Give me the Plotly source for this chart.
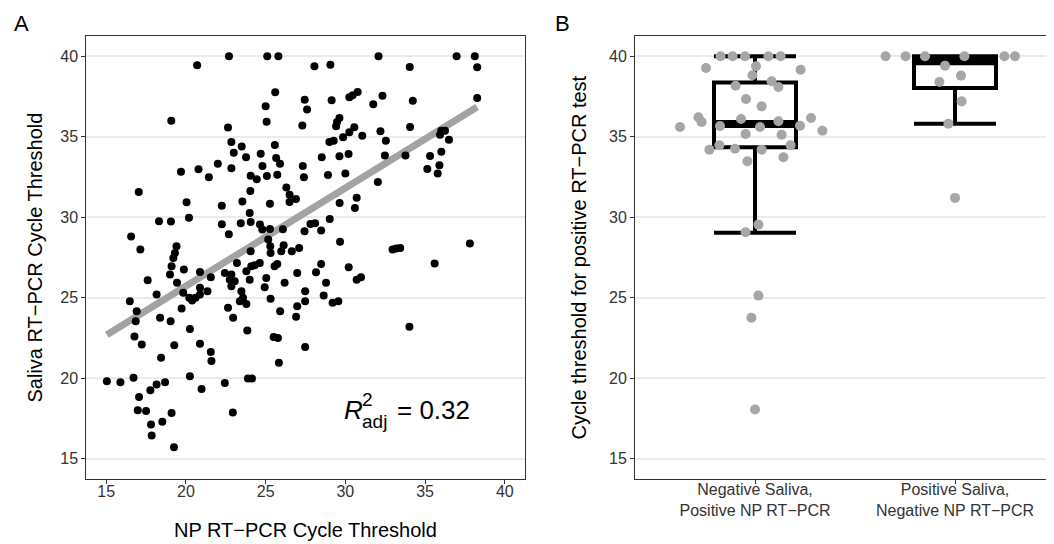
import plotly.graph_objects as go

# Panel A: NP vs saliva cycle threshold
np_ct = [22.7, 25.1, 25.8, 20.7, 25.6, 27.45, 25.0, 27.6, 19.08, 25.06, 27.3, 22.64, 22.85, 23.5,
         23.0, 23.77, 24.69, 25.58, 25.66, 25.9, 24.8, 27.33, 22.0, 22.85, 20.79, 19.69, 21.44,
         24.06, 24.44, 25.08, 25.73, 27.4, 26.3, 26.5, 26.9, 26.5, 24.04, 17.04, 20.04, 23.54,
         25.27, 22.25, 24.0, 20.19, 18.31, 19.06, 22.25, 23.44, 24.06, 24.64, 24.79, 25.27, 26.08,
         27.44, 22.69, 16.56, 17.14, 19.41, 19.31, 25.16, 25.29, 26.13, 25.31, 24.06, 26.64, 27.1,
         25.98,
         32.08, 36.98, 38.12, 38.27, 28.06, 29.06, 34.04, 38.27, 29.14, 30.25, 30.46, 30.77, 32.33,
         31.75, 34.23, 29.63, 29.48, 29.42, 30.56, 30.25, 29.86, 29.0, 29.27, 31.06, 32.2, 32.54,
         34.06, 36.02, 36.25, 35.94, 36.5, 28.52, 29.63, 30.2, 32.48, 33.77, 35.31, 36.02, 35.9,
         35.14, 35.79, 28.91, 30.0, 32.04, 29.64, 30.71, 30.6, 29.02, 27.81, 28.1, 28.48, 29.67,
         32.96, 33.19, 33.44, 37.81,
         19.21, 19.1, 19.0, 19.87, 20.88, 21.56, 22.44, 22.85, 22.75, 23.06, 22.85, 23.2, 23.79,
         24.1, 24.31, 24.63, 24.0, 25.04, 24.94, 25.56, 25.73, 26.19, 26.98, 17.6, 18.16, 16.48,
         16.91, 16.85, 16.77, 17.23, 19.44, 19.83, 19.73, 20.21, 20.39, 20.6, 20.88, 20.88, 21.35,
         18.38, 19.04, 20.25, 19.27, 18.44, 20.88, 21.56, 21.6, 22.64, 22.96, 23.48, 23.38, 23.79,
         23.58, 23.85, 25.31, 25.91, 25.5, 25.77, 25.83, 26.98, 26.91, 27.48, 27.48, 27.48, 15.04,
         15.89, 16.71, 17.06, 16.98, 17.5, 17.77, 18.16, 18.69, 17.81, 17.85, 18.52, 19.1, 19.25,
         20.25, 20.98, 22.44, 23.89, 24.14, 22.94,
         35.6, 28.48, 28.16, 28.79, 30.21, 30.71, 30.98, 28.64, 29.2, 29.56, 34.02]
saliva_ct = [40, 40, 40, 39.44, 37.76, 37.3, 36.9, 36.7, 36.0, 35.94, 35.7, 35.57, 34.68, 34.4,
             34.0, 33.73, 33.95, 34.49, 33.68, 33.33, 33.19, 33.19, 33.33, 33.04, 32.98, 32.83, 32.48,
             32.58, 32.36, 32.56, 32.64, 32.48, 31.84, 31.4, 31.14, 30.95, 31.63, 31.57, 30.93, 30.97,
             30.84, 30.72, 30.27, 29.96, 29.75, 29.73, 29.57, 29.63, 29.71, 29.54, 29.23, 29.27, 29.25,
             29.13, 28.94, 28.8, 27.99, 28.2, 27.78, 28.61, 28.2, 28.26, 27.78, 27.89, 27.89, 28.09,
             27.89,
             40, 40, 40, 39.32, 39.38, 39.48, 39.34, 37.41, 37.27, 37.45, 37.58, 37.78, 37.55,
             37.02, 37.24, 36.17, 35.92, 35.65, 35.59, 35.28, 34.97, 34.68, 34.76, 35.07, 35.34, 34.76,
             35.6, 35.38, 35.38, 35.13, 34.82, 33.73, 33.79, 33.93, 33.83, 33.83, 33.81, 34.07, 33.23,
             33.0, 32.71, 32.63, 32.71, 32.19, 30.88, 31.21, 30.58, 29.89, 29.58, 29.63, 29.17, 28.47,
             27.99, 28.05, 28.09, 28.36,
             27.46, 26.96, 26.44, 26.75, 26.6, 26.27, 26.54, 26.44, 26.12, 26.02, 25.71, 27.16, 26.65,
             26.96, 27.02, 27.16, 26.12, 26.23, 25.65, 26.96, 27.1, 25.92, 26.54, 26.09, 25.19, 24.78,
             24.16, 23.54, 22.58, 22.09, 25.92, 25.3, 24.32, 24.99, 24.82, 24.99, 25.61, 25.19, 25.4,
             23.75, 23.54, 23.06, 22.05, 21.26, 22.13, 21.63, 21.06, 24.37, 23.75, 25.4, 24.78, 24.61,
             24.99, 22.96, 24.93, 24.16, 22.55, 22.5, 20.95, 24.47, 23.81, 25.4, 24.78, 21.94, 19.81,
             19.75, 20.02, 18.82, 18.01, 17.95, 19.25, 19.6, 19.75, 17.12, 16.43, 17.29, 17.84, 15.71,
             20.12, 19.33, 19.69, 19.98, 19.98, 17.86,
             27.12, 27.1, 26.58, 25.92, 26.89, 26.12, 26.27, 25.13, 24.68, 24.78, 23.19]

# linear fit drawn in the figure (end points)
fit_x = [15.04, 38.27]
fit_y = [22.7, 36.85]
r2_adj = "0.32"

# Panel B: discordant results
groups = ["Negative Saliva,<br>Positive NP RT\u2212PCR", "Positive Saliva,<br>Negative NP RT\u2212PCR"]
neg_sal_ct = [40, 40, 40, 40, 40, 39.27, 39.38, 38.82, 39.17, 38.17, 38.45, 38.09, 37.35, 36.89,
              36.21, 35.92, 35.61, 35.67, 36.1, 35.61, 35.96, 35.69, 36.17, 35.38, 35.17, 35.13,
              34.2, 34.47, 34.26, 34.2, 34.47, 33.48, 33.73, 29.54, 29.07, 25.13, 23.75, 18.05]
neg_sal_jit = [-0.172, -0.112, -0.05, 0.067, 0.128, -0.245, 0.005, -0.013, 0.228, -0.097, 0.083,
               0.117, -0.045, 0.033, -0.283, -0.267, -0.375, -0.175, -0.07, 0.025, 0.117, 0.225,
               0.28, 0.337, -0.047, 0.133, -0.228, -0.178, -0.1, 0.033, 0.178, -0.038, 0.142,
               0.017, -0.047, 0.017, -0.018, 0.0]
pos_sal_ct = [40, 40, 40, 40, 40, 40, 39.42, 38.8, 38.4, 37.2, 35.81, 31.2]
pos_sal_jit = [-0.347, -0.247, -0.15, 0.047, 0.247, 0.3, -0.05, 0.03, -0.078, 0.033, -0.033, 0.0]

box_q1 = [34.35, 38.03]
box_med = [35.79, 39.7]
box_q3 = [38.38, 40.0]
box_lo = [29.03, 35.81]
box_hi = [40.0, 40.0]

W, H = 1054, 544
FONT = "Liberation Sans, Arial, Helvetica, sans-serif"


def px(x):
    return x / W


def py(y):
    return 1 - y / H


fig = go.Figure()

# panel A
fig.add_trace(go.Scatter(x=fit_x, y=fit_y, mode="lines",
                         line=dict(color="#a3a3a3", width=7), xaxis="x", yaxis="y"))
fig.add_trace(go.Scatter(x=np_ct, y=saliva_ct, mode="markers",
                         marker=dict(color="black", size=8, line=dict(width=0)),
                         xaxis="x", yaxis="y"))

# panel B
bw = 0.41
for i in range(2):
    fig.add_trace(go.Box(x=[i + 1], q1=[box_q1[i]], median=[box_med[i]], q3=[box_q3[i]],
                         lowerfence=[box_lo[i]], upperfence=[box_hi[i]], width=bw,
                         whiskerwidth=1, boxpoints=False, fillcolor="rgba(0,0,0,0)",
                         line=dict(color="black", width=4), xaxis="x2", yaxis="y2"))
    fig.add_trace(go.Scatter(x=[i + 1 - bw / 2, i + 1 + bw / 2], y=[box_med[i], box_med[i]],
                             mode="lines", line=dict(color="black", width=8),
                             xaxis="x2", yaxis="y2"))

fig.add_trace(go.Scatter(x=[1 + j for j in neg_sal_jit], y=neg_sal_ct, mode="markers",
                         marker=dict(color="#a6a6a6", size=10, line=dict(width=0)),
                         xaxis="x2", yaxis="y2"))
fig.add_trace(go.Scatter(x=[2 + j for j in pos_sal_jit], y=pos_sal_ct, mode="markers",
                         marker=dict(color="#a6a6a6", size=10, line=dict(width=0)),
                         xaxis="x2", yaxis="y2"))

axis_common = dict(showline=True, linecolor="#333333", linewidth=1, ticks="outside",
                   ticklen=4, tickcolor="#333333", tickwidth=1, zeroline=False,
                   tickfont=dict(size=16, color="#333333", family=FONT))
ydom = [py(470.7), py(28.2)]
yvals = [15, 20, 25, 30, 35, 40]

fig.update_layout(
    width=W, height=H, margin=dict(l=0, r=0, t=0, b=0),
    paper_bgcolor="white", plot_bgcolor="white", showlegend=False,
    font=dict(family=FONT, color="black"),
    xaxis=dict(domain=[px(78.3), px(516.7)], range=[13.75, 41.25], tickvals=[15, 20, 25, 30, 35, 40],
               showgrid=False, mirror=True, anchor="y", ticklabelstandoff=-6, **axis_common),
    yaxis=dict(domain=ydom, range=[13.75, 41.25], tickvals=yvals, showgrid=True,
               gridcolor="#ebebeb", gridwidth=1.5, mirror=True, anchor="x", **axis_common),
    xaxis2=dict(domain=[px(627), 1.0], range=[0.4, 0.4 + (W - 627) / 200.0], tickvals=[1, 2],
                ticktext=groups, showgrid=False, mirror=True, anchor="y2", ticklabelstandoff=-8,
                **axis_common),
    yaxis2=dict(domain=ydom, range=[13.75, 41.25], tickvals=yvals, showgrid=True,
                gridcolor="#ebebeb", gridwidth=1.5, mirror=False, anchor="x2", **axis_common),
)

ann = [
    dict(text="A", x=px(13), y=py(15), size=22),
    dict(text="B", x=px(554), y=py(15), size=22),
    dict(text="NP RT\u2212PCR Cycle Threshold", x=px(297.5), y=py(522), size=20),
    dict(text="Saliva RT\u2212PCR Cycle Threshold", x=px(26), y=py(249.5), size=20, angle=-90),
    dict(text="Cycle threshold for positive RT\u2212PCR test", x=px(570), y=py(249.5), size=20,
         angle=-90),
]
for a in ann:
    fig.add_annotation(text=a["text"], x=a["x"], y=a["y"], xref="paper", yref="paper",
                       showarrow=False, xanchor="center", yanchor="middle",
                       textangle=a.get("angle", 0),
                       font=dict(size=a["size"], color="black", family=FONT))

# adjusted R squared label
fig.add_annotation(text="<i>R</i>", x=30.5, y=18.0, xref="x", yref="y", showarrow=False,
                   xanchor="center", yanchor="middle", font=dict(size=26, family=FONT))
fig.add_annotation(text="2", x=31.4, y=18.65, xref="x", yref="y", showarrow=False,
                   xanchor="center", yanchor="middle", font=dict(size=19, family=FONT))
fig.add_annotation(text="adj", x=31.8, y=17.3, xref="x", yref="y", showarrow=False,
                   xanchor="center", yanchor="middle", font=dict(size=19, family=FONT))
fig.add_annotation(text="= " + r2_adj, x=33.1, y=18.0, xref="x", yref="y", showarrow=False,
                   xanchor="left", yanchor="middle", font=dict(size=26, family=FONT))

fig.write_html("out.html")
